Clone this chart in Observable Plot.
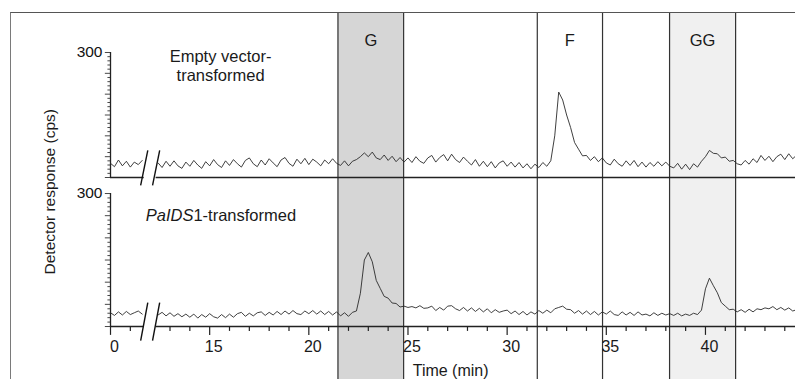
<!DOCTYPE html>
<html><head><meta charset="utf-8">
<script src="https://cdn.jsdelivr.net/npm/d3@7"></script>
<script src="https://cdn.jsdelivr.net/npm/@observablehq/plot@0.6"></script>
<style>
body{margin:0;background:#fff;}
#wrap{position:relative;width:795px;height:379px;overflow:hidden;background:#fff;}
#chart{position:absolute;left:0;top:0;}
#frame{position:absolute;left:10px;top:12px;width:800px;height:380px;border-left:1.5px solid #7a7a7a;border-top:1.2px solid #555;pointer-events:none;}
</style></head><body>
<div id="wrap"><div id="chart"></div><div id="frame"></div></div>
<script>
// sampling of the chromatograms (min)
const startTime = 10, stepTime = 0.2;
// Empty vector-transformed trace (cps), null = axis break
const emptyVector = [
  34, 26, 42, 28, 39, 25, 37, 31, 41, null,
  null, null, 35, 24, 39, 27, 40, 28, 22, 37,
  27, 41, 30, 22, 38, 28, 43, 31, 24, 40,
  29, 43, 33, 25, 41, 47, 33, 26, 42, 30,
  45, 35, 26, 42, 48, 34, 27, 44, 33, 46,
  31, 44, 37, 28, 42, 33, 45, 34, 29, 40,
  28, 39, 43, 50, 59, 50, 61, 47, 43, 54,
  41, 51, 38, 48, 37, 47, 36, 50, 39, 34,
  47, 53, 37, 48, 55, 40, 56, 43, 36, 49,
  39, 30, 43, 27, 39, 26, 38, 23, 35, 40,
  27, 37, 25, 36, 23, 33, 21, 32, 24, 36,
  27, 40, 100, 205, 186, 150, 120, 84, 68, 52,
  53, 41, 50, 38, 47, 35, 30, 44, 33, 27,
  40, 29, 41, 26, 37, 25, 36, 27, 38, 28,
  37, 27, 23, 34, 20, 32, 19, 33, 25, 39,
  50, 65, 58, 57, 47, 49, 39, 41, 33, 30,
  41, 32, 45, 36, 53, 41, 51, 38, 50, 56,
  43, 57, 45, 54
];
// PaIDS1-transformed trace (cps), null = axis break
const paIDS1 = [
  31, 25, 33, 26, 34, 27, 31, 35, 28, null,
  null, null, 26, 32, 24, 31, 23, 29, 22, 28,
  21, 28, 19, 27, 21, 29, 22, 19, 27, 20,
  28, 21, 29, 32, 23, 30, 24, 31, 33, 25,
  32, 26, 34, 27, 35, 28, 36, 29, 27, 35,
  29, 36, 28, 35, 27, 34, 26, 33, 24, 31,
  23, 32, 35, 75, 150, 167, 146, 104, 86, 68,
  64, 53, 52, 44, 46, 43, 45, 42, 47, 41,
  42, 46, 36, 43, 37, 46, 47, 40, 36, 43,
  35, 42, 34, 41, 33, 40, 31, 38, 32, 35,
  37, 29, 35, 27, 34, 26, 33, 28, 36, 30,
  37, 31, 40, 43, 46, 39, 38, 30, 36, 28,
  35, 27, 34, 26, 33, 28, 35, 27, 25, 33,
  26, 32, 25, 33, 26, 28, 24, 31, 25, 30,
  26, 29, 25, 30, 24, 28, 25, 30, 27, 37,
  85, 109, 92, 76, 54, 46, 38, 39, 33, 38,
  32, 39, 33, 40, 38, 42, 40, 45, 38, 43,
  37, 42, 35, 38
];
const boxNames = ["G", "F", "GG"];
const boxStart = [21.47, 31.52, 38.19];
const boxEnd = [24.78, 34.81, 41.52];
const xTickValues = [10, 15, 20, 25, 30, 35, 40];
const xTickLabels = ["0", "15", "20", "25", "30", "35", "40"];
const axisBreak = [11.7, 12.3];
const yMax = 300;

// ---- layout (scale mapping) ----
const xDomain = [4.453, 44.54];
const xEnd = xDomain[1];
const yDomain = [-119.5, 708.3];
const upperBase = 336.1, upperK = 0.94;          // upper panel placement in y units
const upper = v => upperBase + upperK * v;
const font = "'Liberation Sans', Arial, Helvetica, sans-serif";

const toSeries = (arr, f) => arr.map((v, i) => ({t: startTime + stepTime * i, y: v == null ? NaN : f(v)}));
const upperSeries = toSeries(emptyVector, upper);
const lowerSeries = toSeries(paIDS1, v => v);

const boxes = boxNames.map((n, i) => ({name: n, x1: boxStart[i], x2: boxEnd[i]}));
const edges = boxStart.concat(boxEnd);

const baseSegs = [];
for (const b of [0, upperBase]) {
  baseSegs.push({y: b, x1: xTickValues[0], x2: axisBreak[0]});
  baseSegs.push({y: b, x1: axisBreak[1], x2: xEnd});
}
const slashes = [];
for (const b of axisBreak) {
  slashes.push({x1: b + 0.18, y1: upper(65), x2: b - 0.18, y2: upper(-19)});
  slashes.push({x1: b + 0.18, y1: 54, x2: b - 0.18, y2: -32});
}
const minorX = d3.range(11, 45).filter(t => t % 5 !== 0 && !(t > axisBreak[0] && t < axisBreak[1]));
const yTickVals = d3.range(0, yMax + 1, 10);
const yTicks = [];
for (const v of yTickVals) {
  const len = v % 50 === 0 ? 0.26 : 0.13;
  yTicks.push({y: upper(v), x1: xTickValues[0] - len, x2: xTickValues[0]});
  yTicks.push({y: v, x1: xTickValues[0] - len, x2: xTickValues[0]});
}

const chart = Plot.plot({
  width: 795, height: 379,
  marginTop: 12, marginLeft: 0, marginRight: 0, marginBottom: 0,
  x: {domain: xDomain, axis: null},
  y: {domain: yDomain, axis: null},
  style: {fontFamily: font, background: "transparent", color: "#1a1a1a"},
  marks: [
    Plot.rect(boxes, {x1: "x1", x2: "x2", fill: d => d.name === "G" ? "#d6d6d6" : d.name === "GG" ? "#f0f0f0" : "#ffffff"}),
    Plot.ruleX(edges, {stroke: "#333", strokeWidth: 1.2}),
    Plot.ruleY(baseSegs, {y: "y", x1: "x1", x2: "x2", stroke: "#222", strokeWidth: 1.3}),
    Plot.ruleX([xTickValues[0]], {y1: upper(0), y2: upper(yMax), stroke: "#222", strokeWidth: 1.3}),
    Plot.ruleX([xTickValues[0]], {y1: 0, y2: yMax, stroke: "#222", strokeWidth: 1.3}),
    Plot.ruleY(yTicks, {y: "y", x1: "x1", x2: "x2", stroke: "#333", strokeWidth: 0.9}),
    Plot.ruleX(xTickValues, {y1: 0, y2: -20, stroke: "#222", strokeWidth: 1.2}),
    Plot.ruleX(minorX, {y1: 0, y2: -11, stroke: "#222", strokeWidth: 1.2}),
    Plot.link(slashes, {x1: "x1", y1: "y1", x2: "x2", y2: "y2", stroke: "#111", strokeWidth: 1.4}),
    Plot.line(upperSeries, {x: "t", y: "y", stroke: "#2a2a2a", strokeWidth: 0.9}),
    Plot.line(lowerSeries, {x: "t", y: "y", stroke: "#2a2a2a", strokeWidth: 0.9}),
    Plot.text(xTickValues, {x: d => d, y: -47, text: (d, i) => xTickLabels[i], dx: 4, fontSize: 16, fill: "#1a1a1a"}),
    Plot.text([yMax], {x: xTickValues[0], y: d => upper(d), text: d => String(d), textAnchor: "end", dx: -8, fontSize: 15.5, fill: "#111"}),
    Plot.text([yMax], {x: xTickValues[0], y: d => d, text: d => String(d), textAnchor: "end", dx: -8, fontSize: 15.5, fill: "#111"}),
    Plot.text(boxes, {x: d => (d.x1 + d.x2) / 2, y: 645, text: "name", fontSize: 16.5, fill: "#1a1a1a"}),
    Plot.text(["Empty vector-\ntransformed"], {x: 15.55, y: upper(268), text: d => d, lineHeight: 1.15, fontSize: 16.5, fill: "#1a1a1a"}),
    Plot.text(["PaIDS"], {x: 14.18, y: 250, text: d => d, textAnchor: "end", fontStyle: "italic", fontSize: 16.5, fill: "#1a1a1a"}),
    Plot.text(["1-transformed"], {x: 14.18, y: 250, text: d => d, textAnchor: "start", fontSize: 16.5, fill: "#1a1a1a"}),
    Plot.text(["Time (min)"], {x: 27.15, y: -101, text: d => d, fontSize: 16, fill: "#1a1a1a"}),
    Plot.text(["Detector response (cps)"], {x: 6.97, y: 304, text: d => d, rotate: -90, fontSize: 15.5, fill: "#1a1a1a"})
  ]
});
document.getElementById("chart").appendChild(chart);
</script>
</body></html>
